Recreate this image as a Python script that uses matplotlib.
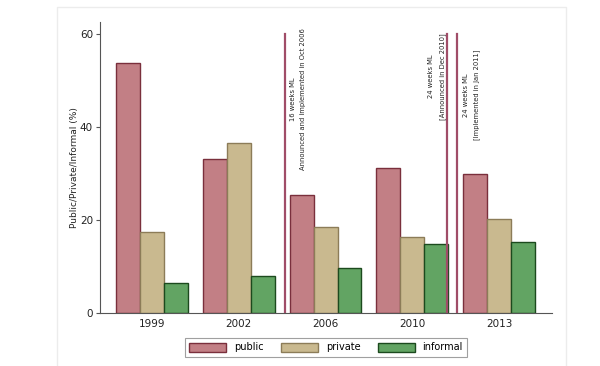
import matplotlib.pyplot as plt
from matplotlib.patches import Rectangle, Patch
import numpy as np

# Data
years = ['1999', '2002', '2006', '2010', '2013']
public = [53.8, 33.2, 25.4, 31.2, 30.0]
private = [17.4, 36.5, 18.5, 16.4, 20.2]
informal = [6.5, 8.0, 9.7, 14.9, 15.2]

# policy marker lines (in group units) and their notes
policy_x = [1.53, 3.40, 3.52]
policy_notes = ['16 weeks ML\nAnnounced and implemented in Oct 2006',
                '24 weeks ML\n[Announced in Dec 2010]',
                '24 weeks ML\n[Implemented in Jan 2011]']

series = [('public', public, '#c27f85', '#7a2f3c'),
          ('private', private, '#c9b98f', '#8c7c58'),
          ('informal', informal, '#62a463', '#1c4a1e')]

fig = plt.figure(figsize=(6, 3.66), dpi=100)
ax = fig.add_axes([100 / 600, 53 / 366, 452 / 600, 291 / 366])

# faint graph region outline
fig.patches.append(Rectangle((57 / 600, -0.01), 509 / 600, 1 - 7 / 366 + 0.01,
                             transform=fig.transFigure, fill=False,
                             edgecolor='#ececec', linewidth=1))

x = np.arange(len(years))
w = 0.276
for i, (name, vals, fc, ec) in enumerate(series):
    ax.bar(x + (i - 1) * w, vals, width=w, color=fc, edgecolor=ec,
           linewidth=1.0, label=name, zorder=2)

for px in policy_x:
    ax.plot([px, px], [0, 60], color='#a04d68', linewidth=1.6, zorder=3)

txt = dict(rotation=90, fontsize=4.9, color='#222222', multialignment='center',
           va='top', linespacing=1.9)
ax.text(1.53 + 0.06, 61.3, policy_notes[0], ha='left', **txt)
ax.text(3.40 - 0.015, 60.2, policy_notes[1], ha='right', **txt)
ax.text(3.52 + 0.06, 56.6, policy_notes[2], ha='left', **txt)

ax.set_xlim(-0.6, 4.61)
ax.set_ylim(0, 62.6)
ax.set_xticks(x)
ax.set_xticklabels(years)
ax.set_yticks([0, 20, 40, 60])
ax.tick_params(axis='x', length=0, pad=4, labelsize=7.5, colors='#222222')
ax.tick_params(axis='y', length=3, width=0.8, pad=2, labelsize=7.5,
               colors='#555555', labelcolor='#222222')
for s in ['top', 'right']:
    ax.spines[s].set_visible(False)
for s in ['left', 'bottom']:
    ax.spines[s].set_color('#555555')
    ax.spines[s].set_linewidth(0.8)
ax.set_ylabel('Public/Private/Informal (%)', fontsize=6.5, color='#222222', labelpad=1)

handles = [Patch(facecolor=fc, edgecolor=ec, linewidth=1.0) for _, _, fc, ec in series]
leg = fig.legend(handles, [s[0] for s in series], loc='center',
                 bbox_to_anchor=(326 / 600, 1 - 347.5 / 366), ncol=3,
                 fontsize=7, frameon=True, fancybox=False, handlelength=3.8,
                 handleheight=1.1, columnspacing=1.8, handletextpad=0.8,
                 borderpad=0.45)
leg.get_frame().set_edgecolor('#888888')
leg.get_frame().set_linewidth(0.8)

fig.savefig('out.png', dpi=100)
